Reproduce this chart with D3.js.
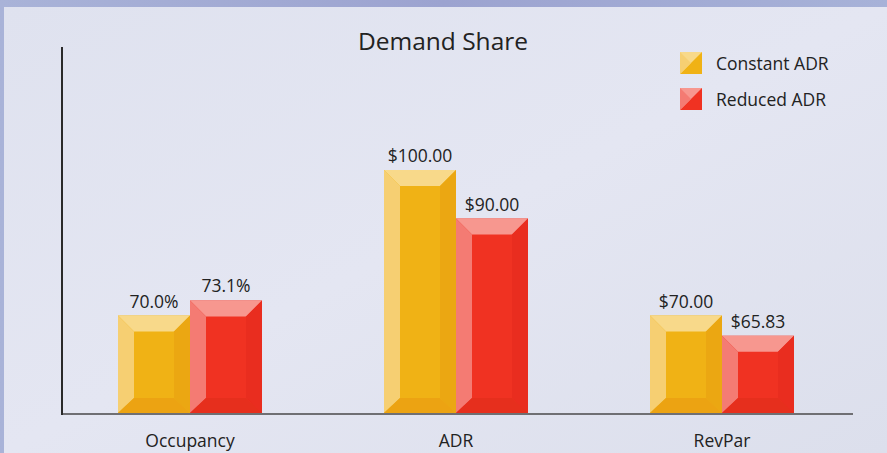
<!DOCTYPE html>
<html>
<head>
<meta charset="utf-8">
<title>Demand Share</title>
<script src="https://cdn.jsdelivr.net/npm/d3@7"></script>
<style>
    body { margin: 0; }
    svg text { font-family: "Open Sans", "Noto Sans", sans-serif; fill: #222; }
</style>
</head>
<body>
<script>
    // chart data
    var categories = ["Occupancy", "ADR", "RevPar"];
    var seriesNames = ["Constant ADR", "Reduced ADR"];
    var constantValues = [70.0, 100.0, 70.0];
    var reducedValues = [73.1, 90.0, 65.83];
    var constantLabels = ["70.0%", "$100.00", "$70.00"];
    var reducedLabels = ["73.1%", "$90.00", "$65.83"];

    var width = 887, height = 453;
    var baseY = 413, left = 62, right = 853;

    // bevel colours: top, left, face, right, bottom
    var palettes = [
        {top: "#f8d98a", left: "#f6cf72", face: "#f0b215", right: "#eba712", bottom: "#eca312"},
        {top: "#f7978f", left: "#f47b73", face: "#f03222", right: "#e92d1f", bottom: "#e62f1d"}
    ];

    var svg = d3.select("body").append("svg")
        .attr("width", width)
        .attr("height", height);

    var defs = svg.append("defs");
    var bg = defs.append("linearGradient").attr("id", "bg")
        .attr("x1", "0").attr("y1", "0").attr("x2", "1").attr("y2", "1");
    bg.append("stop").attr("offset", "0").attr("stop-color", "#dfe2ef");
    bg.append("stop").attr("offset", "0.5").attr("stop-color", "#e4e6f2");
    bg.append("stop").attr("offset", "1").attr("stop-color", "#dcdfec");
    var frame = defs.append("linearGradient").attr("id", "frame")
        .attr("x1", "0").attr("y1", "0").attr("x2", "1").attr("y2", "0");
    frame.append("stop").attr("offset", "0").attr("stop-color", "#a9b3d8");
    frame.append("stop").attr("offset", "0.5").attr("stop-color", "#9ca3d0");
    frame.append("stop").attr("offset", "1").attr("stop-color", "#a7b2d8");

    svg.append("rect").attr("width", width).attr("height", height).attr("fill", "url(#frame)");
    svg.append("rect").attr("x", 4).attr("y", 7).attr("width", width - 4).attr("height", height - 7)
        .attr("fill", "url(#bg)");

    // group centres at 190, 456, 722; each bar 72 wide
    var x0 = d3.scalePoint().domain(categories).range([190, 722]);
    var x1 = d3.scaleBand().domain(seriesNames).range([-72, 72]);

    var y = d3.scaleLinear().domain([49.9, 100]).range([baseY, 170]);

    var bev = 16, bevB = 15;

    function drawBar(g, x, w, top, pal) {
        var b = baseY, r = x + w;
        var ix = x + bev, ir = r - bev, it = top + bev, ib = b - bevB;
        g.append("rect").attr("x", x).attr("y", top).attr("width", w).attr("height", b - top).attr("fill", pal.face);
        g.append("path").attr("fill", pal.top)
            .attr("d", "M" + x + "," + top + "L" + r + "," + top + "L" + ir + "," + it + "L" + ix + "," + it + "Z");
        g.append("path").attr("fill", pal.left)
            .attr("d", "M" + x + "," + top + "L" + ix + "," + it + "L" + ix + "," + ib + "L" + x + "," + b + "Z");
        g.append("path").attr("fill", pal.right)
            .attr("d", "M" + r + "," + top + "L" + r + "," + b + "L" + ir + "," + ib + "L" + ir + "," + it + "Z");
        g.append("path").attr("fill", pal.bottom)
            .attr("d", "M" + x + "," + b + "L" + r + "," + b + "L" + ir + "," + ib + "L" + ix + "," + ib + "Z");
    }

    var series = [constantValues, reducedValues];
    var labels = [constantLabels, reducedLabels];

    var bars = svg.append("g");
    categories.forEach(function(c, i) {
        seriesNames.forEach(function(s, j) {
            var bx = x0(c) + x1(s);
            var top = y(series[j][i]);
            drawBar(bars, bx, x1.bandwidth(), top, palettes[j]);
            bars.append("text")
                .attr("x", bx + x1.bandwidth() / 2)
                .attr("y", top - 8)
                .attr("text-anchor", "middle")
                .attr("font-size", 17.5)
                .text(labels[j][i]);
        });
    });

    // axes
    svg.append("line").attr("x1", left).attr("x2", right).attr("y1", baseY + 1).attr("y2", baseY + 1)
        .attr("stroke", "#6f6f73").attr("stroke-width", 2);
    svg.append("line").attr("x1", left).attr("x2", left).attr("y1", 47).attr("y2", baseY + 2)
        .attr("stroke", "#2a2a2a").attr("stroke-width", 2);

    svg.selectAll("text.cat")
        .data(categories)
        .enter().append("text")
        .attr("class", "cat")
        .attr("x", function(d) { return x0(d); })
        .attr("y", 447)
        .attr("text-anchor", "middle")
        .attr("font-size", 17.5)
        .text(function(d) { return d; });

    svg.append("text")
        .attr("x", 443).attr("y", 50)
        .attr("text-anchor", "middle")
        .attr("font-size", 24.5)
        .text("Demand Share");

    // legend
    var legend = svg.selectAll("g.legend")
        .data(seriesNames)
        .enter().append("g")
        .attr("class", "legend")
        .attr("transform", function(d, i) { return "translate(680," + (52 + i * 36) + ")"; });
    legend.append("path").attr("fill", function(d, i) { return palettes[i].face; })
        .attr("d", "M0,0L22,0L22,22L0,22Z");
    legend.append("path").attr("fill", function(d, i) { return palettes[i].top; })
        .attr("d", "M0,0L22,0L0,22Z");
    legend.append("path").attr("fill", function(d, i) { return palettes[i].left; })
        .attr("d", "M0,0L11,11L0,22Z");
    legend.append("text")
        .attr("x", 36).attr("y", 18)
        .attr("font-size", 17.5)
        .text(function(d) { return d; });
</script>
</body>
</html>
